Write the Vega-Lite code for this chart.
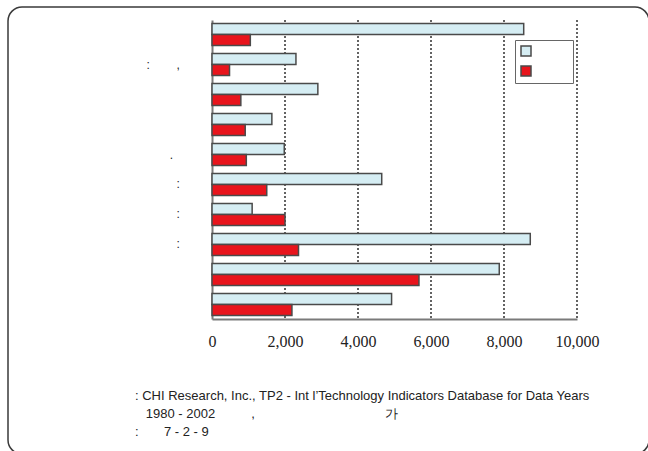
{
  "$schema": "https://vega.github.io/schema/vega-lite/v6.json",
  "width": 641,
  "height": 447,
  "autosize": {"type": "none"},
  "padding": {"left": 8, "top": 7, "right": 0, "bottom": 0},
  "background": "white",
  "view": {"stroke": "#3a3a3a", "strokeWidth": 1.5, "cornerRadius": 14, "fill": "white"},
  "title": {
    "text": [
      ": CHI Research, Inc., TP2 - Int l’Technology Indicators Database for Data Years",
      "\u200b\u00a0\u00a0\u00a01980 - 2002\u00a0\u00a0\u00a0\u00a0\u00a0\u00a0\u00a0\u00a0\u00a0\u00a0,\u00a0\u00a0\u00a0\u00a0\u00a0\u00a0\u00a0\u00a0\u00a0\u00a0\u00a0\u00a0\u00a0\u00a0\u00a0\u00a0\u00a0\u00a0\u00a0\u00a0\u00a0\u00a0\u00a0\u00a0\u00a0\u00a0\u00a0\u00a0\u00a0\u00a0\u00a0\u00a0\u00a0\u00a0\u00a0\u00a0가",
      ":\u00a0\u00a0\u00a0\u00a0\u00a0\u00a0\u00a07 - 2 - 9"
    ],
    "orient": "bottom",
    "anchor": "start",
    "frame": "group",
    "dx": 127,
    "offset": -64,
    "baseline": "top",
    "font": "Liberation Sans",
    "fontSize": 13,
    "fontWeight": "normal",
    "color": "#222",
    "lineHeight": 18
  },
  "layer": [
    {
      "data": {"values": [{"grid": 2000}, {"grid": 4000}, {"grid": 6000}, {"grid": 8000}, {"grid": 10000}]},
      "mark": {"type": "rule", "color": "#222222", "strokeDash": [2, 2], "strokeWidth": 1.4},
      "encoding": {
        "x": {"field": "grid", "type": "quantitative"},
        "y": {"datum": 0, "type": "quantitative", "scale": {"domain": [0, 1], "range": [13, 312]}, "axis": null},
        "y2": {"datum": 1}
      }
    },
    {
      "data": {
        "values": [
          {"cat": "1", "series": "A", "value": 8540},
          {"cat": "1", "series": "B", "value": 1050},
          {"cat": "2", "series": "A", "value": 2300},
          {"cat": "2", "series": "B", "value": 480},
          {"cat": "3", "series": "A", "value": 2900},
          {"cat": "3", "series": "B", "value": 790},
          {"cat": "4", "series": "A", "value": 1640},
          {"cat": "4", "series": "B", "value": 910},
          {"cat": "5", "series": "A", "value": 1980},
          {"cat": "5", "series": "B", "value": 940},
          {"cat": "6", "series": "A", "value": 4650},
          {"cat": "6", "series": "B", "value": 1500},
          {"cat": "7", "series": "A", "value": 1100},
          {"cat": "7", "series": "B", "value": 2000},
          {"cat": "8", "series": "A", "value": 8720},
          {"cat": "8", "series": "B", "value": 2370},
          {"cat": "9", "series": "A", "value": 7870},
          {"cat": "9", "series": "B", "value": 5670},
          {"cat": "10", "series": "A", "value": 4920},
          {"cat": "10", "series": "B", "value": 2190}
        ]
      },
      "mark": {"type": "bar", "stroke": "#4a4a4a", "strokeWidth": 1.5},
      "encoding": {
        "y": {
          "field": "cat",
          "type": "nominal",
          "sort": null,
          "scale": {"range": [13, 312], "paddingInner": 0.27, "paddingOuter": 0.12},
          "axis": {
            "title": null,
            "offset": -204,
            "ticks": false,
            "tickSize": 0,
            "grid": false,
            "labelAlign": "left",
            "labelPadding": 66,
            "labelFont": "Liberation Sans",
            "labelFontSize": 12,
            "labelColor": "#222",
            "domainColor": "#7a7a7a",
            "domainWidth": 2,
            "labelExpr": "['', ':\u00a0\u00a0\u00a0\u00a0\u00a0\u00a0\u00a0\u00a0,', '', '', '\u200b\u00a0\u00a0\u00a0\u00a0\u00a0\u00a0\u00a0.', '\u200b\u00a0\u00a0\u00a0\u00a0\u00a0\u00a0\u00a0\u00a0\u00a0:', '\u200b\u00a0\u00a0\u00a0\u00a0\u00a0\u00a0\u00a0\u00a0\u00a0:', '\u200b\u00a0\u00a0\u00a0\u00a0\u00a0\u00a0\u00a0\u00a0\u00a0:', '', ''][toNumber(datum.value) - 1]"
          }
        },
        "yOffset": {
          "field": "series",
          "type": "nominal",
          "sort": ["A", "B"],
          "scale": {"paddingInner": 0, "paddingOuter": 0}
        },
        "x": {
          "field": "value",
          "type": "quantitative",
          "scale": {"domain": [0, 10000], "nice": false, "range": [204, 569]},
          "axis": {
            "title": null,
            "offset": -135,
            "values": [0, 2000, 4000, 6000, 8000, 10000],
            "format": ",.0f",
            "ticks": false,
            "tickSize": 0,
            "grid": false,
            "labelFlush": false,
            "labelPadding": 14,
            "labelFont": "Liberation Serif",
            "labelFontSize": 16,
            "labelColor": "#222",
            "domainColor": "#7a7a7a",
            "domainWidth": 2
          }
        },
        "fill": {
          "field": "series",
          "type": "nominal",
          "scale": {"domain": ["A", "B"], "range": ["#d5edf3", "#e8141c"]},
          "legend": {
            "title": null,
            "orient": "none",
            "legendX": 507,
            "legendY": 33,
            "direction": "vertical",
            "padding": 4,
            "fillColor": "white",
            "strokeColor": "#666666",
            "symbolType": "square",
            "symbolSize": 100,
            "symbolStrokeColor": "#4a4a4a",
            "symbolStrokeWidth": 1.5,
            "labelFontSize": 14,
            "rowPadding": 4,
            "labelOffset": 4,
            "labelExpr": "'\u200b\u00a0\u00a0\u00a0\u00a0\u00a0\u00a0\u00a0\u00a0\u200b'"
          }
        }
      }
    }
  ],
  "resolve": {"scale": {"y": "independent"}}
}
